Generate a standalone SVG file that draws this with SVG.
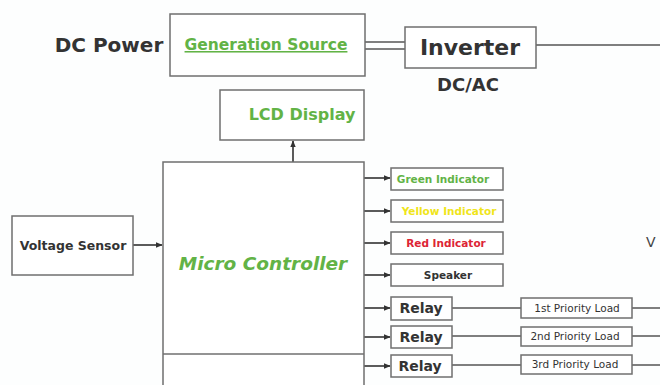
<svg xmlns="http://www.w3.org/2000/svg" width="660" height="385" viewBox="0 0 660 385">
<style>
.box{fill:#fff;stroke:#6f6f6f;stroke-width:1.5}
.ln{fill:none;stroke:#555;stroke-width:1.5}
.ar{fill:none;stroke:#333;stroke-width:1.6;marker-end:url(#ah)}
.t{font-family:"DejaVu Sans","Liberation Sans",sans-serif;font-weight:bold;fill:#333;text-anchor:middle}
.g{fill:#62b346}
.ld{font-size:10.5px;font-weight:normal}
</style>
<defs>
<marker id="ah" viewBox="0 0 10 10" refX="9" refY="5" markerWidth="7" markerHeight="7" markerUnits="userSpaceOnUse" orient="auto">
<path d="M0,1 L10,5 L0,9 z" fill="#333"/>
</marker>
</defs>
<rect width="660" height="385" fill="#fdfefe"/>
<g id="connectors">
<line x1="365" y1="42" x2="405" y2="42" class="ln"/>
<line x1="365" y1="49" x2="405" y2="49" class="ln"/>
<line x1="536" y1="45" x2="660" y2="45" class="ln"/>
<line x1="293" y1="162" x2="293" y2="141" class="ar"/>
<line x1="133" y1="245" x2="162" y2="245" class="ar"/>
<line x1="364" y1="178" x2="390" y2="178" class="ar"/>
<line x1="364" y1="211" x2="390" y2="211" class="ar"/>
<line x1="364" y1="243" x2="390" y2="243" class="ar"/>
<line x1="364" y1="275" x2="390" y2="275" class="ar"/>
<line x1="364" y1="308" x2="390" y2="308" class="ar"/>
<line x1="364" y1="337" x2="390" y2="337" class="ar"/>
<line x1="364" y1="366" x2="390" y2="366" class="ar"/>
<line x1="452" y1="308" x2="521" y2="308" class="ln"/>
<line x1="452" y1="336" x2="521" y2="336" class="ln"/>
<line x1="452" y1="365" x2="521" y2="365" class="ln"/>
<line x1="632" y1="308" x2="660" y2="308" class="ln"/>
<line x1="632" y1="336" x2="660" y2="336" class="ln"/>
<line x1="632" y1="365" x2="660" y2="365" class="ln"/>
</g>
<g id="dcpower"><text x="109" y="52" class="t" style="font-size:20px">DC Power</text></g>
<g id="gensource">
<rect x="170" y="14" width="195" height="62" class="box"/>
<text x="266" y="50" class="t g" style="font-size:15.5px;font-weight:600;text-decoration:underline">Generation Source</text>
</g>
<g id="inverter">
<rect x="405" y="27" width="131" height="41" class="box"/>
<text x="470" y="55" class="t" style="font-size:22px">Inverter</text>
</g>
<g id="dcac"><text x="468" y="91" class="t" style="font-size:18px">DC/AC</text></g>
<g id="lcd">
<rect x="220" y="90" width="144" height="50" class="box"/>
<text x="302" y="120" class="t g" style="font-size:16px">LCD Display</text>
</g>
<g id="mc">
<rect x="163" y="162" width="201" height="230" class="box"/>
<line x1="163" y1="354" x2="364" y2="354" class="box"/>
<text x="263" y="270" class="t g" style="font-size:18.5px;font-weight:600;font-style:italic">Micro Controller</text>
</g>
<g id="vsensor">
<rect x="12" y="216" width="121" height="59" class="box"/>
<text x="73" y="250" class="t" style="font-size:12.5px">Voltage Sensor</text>
</g>
<g id="green">
<rect x="391" y="168" width="112" height="22" class="box"/>
<text x="443" y="183" class="t g" style="font-size:10.5px">Green Indicator</text>
</g>
<g id="yellow">
<rect x="391" y="200" width="112" height="22" class="box"/>
<text x="449" y="215" class="t" style="font-size:10.5px;fill:#f0e51a">Yellow Indicator</text>
</g>
<g id="red">
<rect x="391" y="232" width="112" height="22" class="box"/>
<text x="446" y="247" class="t" style="font-size:10.5px;fill:#dd2535">Red Indicator</text>
</g>
<g id="speaker">
<rect x="391" y="264" width="112" height="22" class="box"/>
<text x="448" y="279" class="t" style="font-size:10.5px">Speaker</text>
</g>
<g id="relay1">
<rect x="391" y="297" width="61" height="23" class="box"/>
<text x="421" y="313" class="t" style="font-size:14px">Relay</text>
</g>
<g id="relay2">
<rect x="391" y="326" width="61" height="22" class="box"/>
<text x="421" y="342" class="t" style="font-size:14px">Relay</text>
</g>
<g id="relay3">
<rect x="391" y="355" width="61" height="22" class="box"/>
<text x="420" y="371" class="t" style="font-size:14px">Relay</text>
</g>
<g id="load1">
<rect x="521" y="298" width="111" height="20" class="box"/>
<text x="577" y="312" class="t ld">1st Priority Load</text>
</g>
<g id="load2">
<rect x="521" y="327" width="111" height="19" class="box"/>
<text x="575" y="340" class="t ld">2nd Priority Load</text>
</g>
<g id="load3">
<rect x="521" y="355" width="111" height="19" class="box"/>
<text x="575" y="368" class="t ld">3rd Priority Load</text>
</g>
<g id="cut"><text x="646" y="247" style="font-family:'DejaVu Sans',sans-serif;font-size:14px;fill:#444">V</text></g>
</svg>
